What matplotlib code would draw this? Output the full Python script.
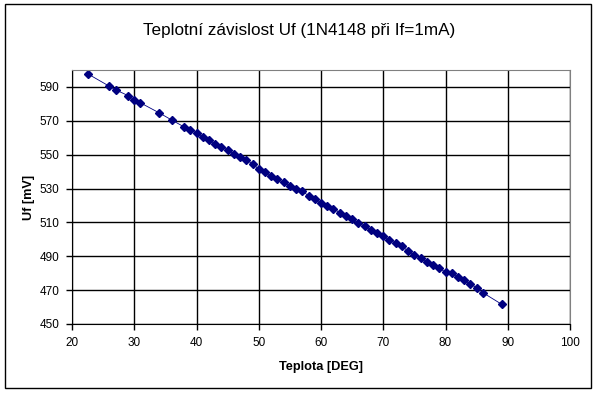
import matplotlib
matplotlib.use("Agg")
import matplotlib.pyplot as plt
from matplotlib.patches import Rectangle

temp = [22.5, 26, 27, 29, 30, 31, 34, 36, 38, 39, 40, 41, 42, 43, 44, 45, 46, 47, 48, 49,
        50, 51, 52, 53, 54, 55, 56, 57, 58, 59, 60, 61, 62, 63, 64, 65, 66, 67, 68, 69,
        70, 71, 72, 73, 74, 75, 76, 77, 78, 79, 80, 81, 82, 83, 84, 85, 86, 89]
uf = [597.8, 590.4, 588.3, 584.9, 582.4, 580.6, 574.7, 570.5, 566.4, 564.6, 562.8, 560.5,
      558.7, 556.3, 554.6, 552.8, 550.4, 548.6, 546.9, 544.6, 541.5, 539.8, 537.4, 535.4,
      533.6, 531.5, 529.7, 528.5, 525.7, 524.0, 521.6, 519.4, 518.2, 515.7, 513.7, 511.9,
      509.6, 507.8, 505.4, 503.7, 501.9, 499.5, 497.8, 496.0, 493.0, 490.7, 488.9, 486.5,
      484.7, 483.0, 480.6, 480.2, 477.6, 475.9, 473.5, 471.5, 468.5, 461.7]
xticks = list(range(20, 101, 10))
yticks = list(range(450, 591, 20))
title = "Teplotní závislost Uf (1N4148 při If=1mA)"
xlabel = "Teplota [DEG]"
ylabel = "Uf [mV]"

plt.rcParams['font.family'] = ['Liberation Sans', 'DejaVu Sans']
W, H = 598, 394
fig = plt.figure(figsize=(W/100, H/100), dpi=100)
fig.patches.append(Rectangle((5/W, 1-388/H), (591-5)/W, (388-4)/H, transform=fig.transFigure,
                             fill=False, edgecolor='black', linewidth=1))
ax = fig.add_axes([72/W, 1-324/H, (570-72)/W, (324-70)/H])
ax.plot(temp, uf, color='#000080', linewidth=0.6, marker='D', markersize=4.5,
        markerfacecolor='#000080', markeredgecolor='#000080')
ax.set_xlim(20, 100)
ax.set_ylim(450, 600)
ax.set_xticks(xticks)
ax.set_yticks(yticks)
ax.grid(True, color='black', linewidth=1)
ax.set_axisbelow(True)
for s in ['top', 'right']:
    ax.spines[s].set_color('#808080')
for s in ['left', 'bottom']:
    ax.spines[s].set_color('black')
ax.tick_params(direction='out', length=4, width=1, labelsize=8.5, pad=5)
ax.set_xlabel(xlabel, fontsize=9.2, fontweight='bold', labelpad=9)
ax.set_ylabel(ylabel, fontsize=9.2, fontweight='bold', labelpad=3)
fig.text(0.5, 1-30/H, title, ha='center', va='center', fontsize=12.3)
fig.savefig("out.png", dpi=100)
